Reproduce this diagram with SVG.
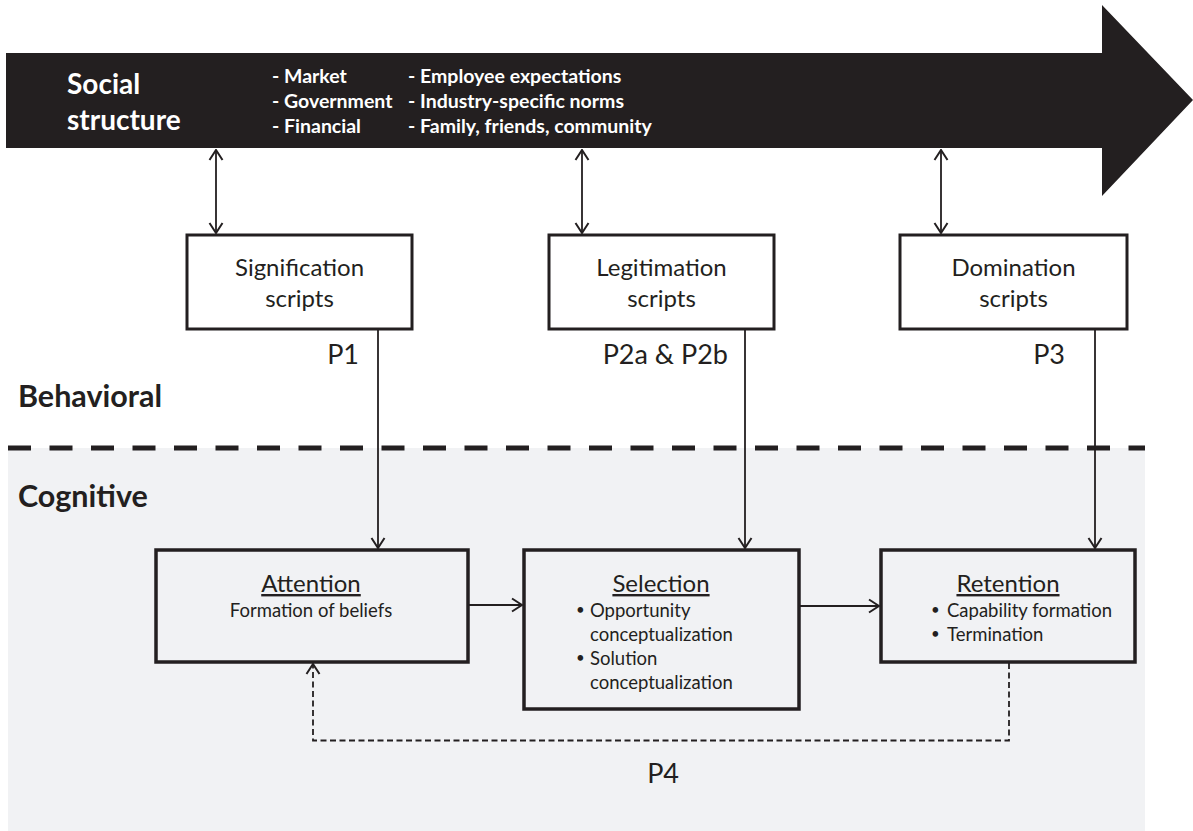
<svg xmlns="http://www.w3.org/2000/svg" width="1193" height="831" viewBox="0 0 1193 831">
<style>
text{font-family:Lato,"Liberation Sans",sans-serif;fill:#231f20}
.w{fill:#ffffff;font-weight:bold}
.soc{font-size:28px}
.lst{font-size:19.5px}
.lbl{font-size:24px;text-anchor:middle}
.p{font-size:27px;text-anchor:end}
.lay{font-size:30.5px;font-weight:bold}
.ttl{font-size:24px;text-anchor:middle;text-decoration:underline}
.itm{font-size:18.5px}
.bul{font-size:15px}
.box{fill:#ffffff;stroke:#231f20;stroke-width:3}
.cbox{fill:#f1f2f4;stroke:#231f20;stroke-width:3.5}
.ln{fill:none;stroke:#231f20;stroke-width:1.8}
.dash{stroke-dasharray:6 3.5}
</style>
<defs>
<marker id="ah" viewBox="0 0 12 16" refX="11" refY="8" markerWidth="12" markerHeight="16" markerUnits="userSpaceOnUse" orient="auto-start-reverse">
<path d="M1,1.5 L11,8 L1,14.5" fill="none" stroke="#231f20" stroke-width="2"/>
</marker>
</defs>
<rect id="cognitive-band" x="8" y="448" width="1137" height="383" fill="#f1f2f4"/>
<line x1="8" y1="448" x2="1145" y2="448" stroke="#231f20" stroke-width="5" stroke-dasharray="23 18.5"/>
<g id="social-structure">
<polygon points="6,53 1102,53 1102,5 1193,100 1102,196 1102,148 6,148" fill="#231f20"/>
<text class="w soc" x="67" y="94">Social</text>
<text class="w soc" x="67" y="130">structure</text>
<text class="w lst" x="272" y="83">- Market</text>
<text class="w lst" x="272" y="108">- Government</text>
<text class="w lst" x="272" y="133">- Financial</text>
<text class="w lst" x="408" y="83">- Employee expectations</text>
<text class="w lst" x="408" y="108">- Industry-specific norms</text>
<text class="w lst" x="408" y="133">- Family, friends, community</text>
</g>
<g id="layer-labels">
<text class="lay" x="18" y="407">Behavioral</text>
<text class="lay" x="18" y="507">Cognitive</text>
</g>
<g id="signification">
<rect class="box" x="187" y="235" width="225" height="94"/>
<text class="lbl" x="299.5" y="276">Signification</text>
<text class="lbl" x="299.5" y="307">scripts</text>
</g>
<g id="legitimation">
<rect class="box" x="549" y="235" width="225" height="94"/>
<text class="lbl" x="661.5" y="276">Legitimation</text>
<text class="lbl" x="661.5" y="307">scripts</text>
</g>
<g id="domination">
<rect class="box" x="900" y="235" width="227" height="94"/>
<text class="lbl" x="1013.5" y="276">Domination</text>
<text class="lbl" x="1013.5" y="307">scripts</text>
</g>
<g id="attention">
<rect class="cbox" x="156" y="550" width="312" height="112"/>
<text class="ttl" x="311" y="592">Attention</text>
<text class="itm" x="311" y="617" text-anchor="middle">Formation of beliefs</text>
</g>
<g id="selection">
<rect class="cbox" x="524" y="550" width="275" height="159"/>
<text class="ttl" x="661" y="592">Selection</text>
<text class="bul" x="576" y="615">•</text>
<text class="itm" x="590" y="617">Opportunity</text>
<text class="itm" x="590" y="641">conceptualization</text>
<text class="bul" x="576" y="663">•</text>
<text class="itm" x="590" y="665">Solution</text>
<text class="itm" x="590" y="689">conceptualization</text>
</g>
<g id="retention">
<rect class="cbox" x="881" y="550" width="254" height="112"/>
<text class="ttl" x="1008" y="592">Retention</text>
<text class="bul" x="931" y="615">•</text>
<text class="itm" x="947" y="617">Capability formation</text>
<text class="bul" x="931" y="639">•</text>
<text class="itm" x="947" y="641">Termination</text>
</g>
<g id="connectors">
<line class="ln" x1="216" y1="150" x2="216" y2="233" marker-start="url(#ah)" marker-end="url(#ah)"/>
<line class="ln" x1="582" y1="150" x2="582" y2="233" marker-start="url(#ah)" marker-end="url(#ah)"/>
<line class="ln" x1="941" y1="150" x2="941" y2="233" marker-start="url(#ah)" marker-end="url(#ah)"/>
<line class="ln" x1="378" y1="330" x2="378" y2="548" marker-end="url(#ah)"/>
<line class="ln" x1="745" y1="330" x2="745" y2="548" marker-end="url(#ah)"/>
<line class="ln" x1="1095" y1="330" x2="1095" y2="548" marker-end="url(#ah)"/>
<line class="ln" x1="469" y1="605" x2="522" y2="605" marker-end="url(#ah)"/>
<line class="ln" x1="800" y1="606" x2="879" y2="606" marker-end="url(#ah)"/>
<path class="ln dash" d="M1009,663 V740.5 H313 V664" marker-end="url(#ah)"/>
<text class="p" x="359" y="364">P1</text>
<text class="p" x="728" y="364">P2a &amp; P2b</text>
<text class="p" x="1065" y="364">P3</text>
<text class="p" x="679" y="783">P4</text>
</g>
</svg>
